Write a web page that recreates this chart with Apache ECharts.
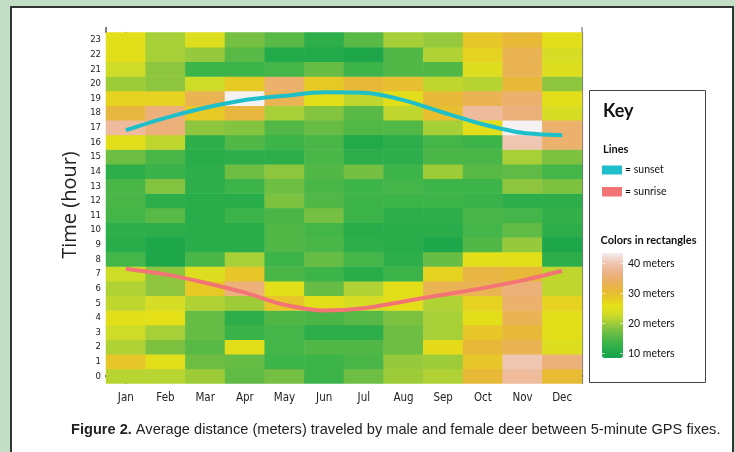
<!DOCTYPE html>
<html><head><meta charset="utf-8">
<script src="https://cdn.jsdelivr.net/npm/echarts@6/dist/echarts.min.js"></script>
<style>html,body{margin:0;padding:0;background:#c2dfc5}#c{width:735px;height:452px}</style>
</head><body><div id="c"></div>
<script>
const months = ['Jan','Feb','Mar','Apr','May','Jun','Jul','Aug','Sep','Oct','Nov','Dec'];
const hours = ['0','1','2','3','4','5','6','7','8','9','10','11','12','13','14','15','16','17','18','19','20','21','22','23'];
// average distance (m) per hour 0..23 for each month
const jan = [21.5,29,21,23,25.5,22,21,23,14,11.5,12,14,14.5,14.5,12,17,25.5,38.5,31.5,27.5,20,23,25.5,25.5];
const feb = [21.5,25.5,18,20.5,26,23.5,19,19,10,10,12,15.5,12,18.5,13,14.5,22,36,36,27.5,19,19,20.5,20.5];
const mar = [20,17,15.5,16.5,16.5,21,28.5,24.5,14.5,11.5,11.5,11.5,11.5,12,12,11.5,12,19,28.5,33,23,13.5,19.5,24.5];
const apr = [16,16.5,25.5,13,12,20,36,29,20.5,11.5,11.5,13.5,11.5,13.5,17,12,15,18.5,31.5,43.5,28.5,13.5,15.5,17.5];
const may = [17.5,13.5,14,14,15,29,25.5,14.5,13.5,15,15,14.5,18,17,19,12,13.5,15,20.5,33,35,14,10.5,15.5];
const jun = [13.5,13.5,15,12,14.5,25.5,16.5,13.5,16.5,14.5,14,17.5,15,14.5,15,14.5,14.5,16.5,18.5,25.5,28.5,16.5,10.5,12];
const jul = [17,14.5,15,12,15.5,23.5,21,11.5,14,12,11.5,13.5,13.5,13.5,17.5,12,10.5,15,15.5,22,31,13.5,10,15.5];
const aug = [20,19.5,17,17,18,25.5,25.5,13.5,12,11.5,11.5,12,13.5,14,13.5,12,12,15,22,25.5,30,15,15,20.5];
const sep = [21,20,26.5,20.5,20.5,21,33,27.5,16.5,10,11.5,12,13.5,13.5,20,14.5,14,20.5,30,31,22,15,21,19.5];
const oct = [31,29,31,29,25.5,27.5,33,32,25.5,15,14,14.5,13,13.5,15.5,14.5,13.5,25.5,38.5,33,21.5,24.5,27.5,29];
const nov = [38.5,40,33,31,33,35,36,31,25.5,19.5,16,14,12,19,16,20.5,40,43.5,36,35,31,33,33,31];
const dec = [30.5,36,24.5,25.5,25.5,27.5,22,22,12,10,12,12.5,12,18,14,18,35,35,23.5,25.5,19,24.5,23.5,25.5];
// sunset / sunrise time (hour) at mid-month
const sunset  = [16.82,17.66,18.35,18.88,19.17,19.41,19.38,18.88,18.03,17.23,16.64,16.48];
const sunrise = [7.35,6.96,6.39,5.71,4.88,4.49,4.65,5.11,5.57,6.02,6.55,7.21];
const legendTicks = [40,30,20,10];

const monthly = [jan,feb,mar,apr,may,jun,jul,aug,sep,oct,nov,dec];
const heat = [];
monthly.forEach((arr,m)=>arr.forEach((v,h)=>heat.push([m,h,v])));

const chart = echarts.init(document.getElementById('c'), null, {renderer:'canvas'});
const narrow = "'Liberation Sans Narrow','DejaVu Sans Condensed',sans-serif";
const keyFont = "Lato,'Liberation Sans',sans-serif";
const vmMin = 8.5, vmMax = 43.5, vmTop = 253, vmH = 105;
const valY = v => vmTop + vmH * (vmMax - v) / (vmMax - vmMin);

const graphics = [
  {type:'rect', z:-100, shape:{x:11,y:7,width:722,height:470}, style:{fill:'#fff', stroke:'#333', lineWidth:2}},
  {type:'line', shape:{x1:106,y1:27,x2:106,y2:33}, style:{stroke:'#555',lineWidth:1.5}},
  {type:'line', shape:{x1:582,y1:27,x2:582,y2:33}, style:{stroke:'#777',lineWidth:1.2}},
  {type:'rect', shape:{x:589.5,y:90.5,width:116,height:292}, style:{fill:'#fff', stroke:'#444', lineWidth:1}, z:-1},
  {type:'text', x:603, y:111, style:{text:'Key', font:"bold 18px "+keyFont, fill:'#111', textVerticalAlign:'middle'}},
  {type:'text', x:603, y:149.5, style:{text:'Lines', font:"bold 11px "+keyFont, fill:'#111', textVerticalAlign:'middle'}},
  {type:'rect', shape:{x:602,y:165.5,width:20,height:9}, style:{fill:'#1ebfc8'}},
  {type:'text', x:625, y:170, style:{text:'= sunset', font:"10.5px "+keyFont, fill:'#111', textVerticalAlign:'middle'}},
  {type:'rect', shape:{x:602,y:187,width:20,height:9.5}, style:{fill:'#f27474'}},
  {type:'text', x:625, y:191.5, style:{text:'= sunrise', font:"10.5px "+keyFont, fill:'#111', textVerticalAlign:'middle'}},
  {type:'text', x:600.5, y:240.5, style:{text:'Colors in rectangles', font:"bold 11px "+keyFont, fill:'#111', textVerticalAlign:'middle'}},
  {type:'text', x:71, y:430, style:{rich:{b:{font:"bold 14.6px 'Liberation Sans',Arial,sans-serif", fill:'#222'}, n:{font:"14.6px 'Liberation Sans',Arial,sans-serif", fill:'#222'}}, text:'{b|Figure 2.}{n| Average distance (meters) traveled by male and female deer between 5-minute GPS fixes.}', textVerticalAlign:'middle'}},
  {type:'text', x:70, y:205, rotation:Math.PI/2, style:{text:'Time (hour)', font:"20px 'Open Sans','Liberation Sans',sans-serif", fill:'#222', textAlign:'center', textVerticalAlign:'middle'}}
];
legendTicks.forEach(t=>{
  graphics.push({type:'text', x:628, y:valY(t), style:{text:t+' meters', font:"10.5px "+keyFont, fill:'#111', textVerticalAlign:'middle'}});
  graphics.push({type:'line', z:10, shape:{x1:602,y1:valY(t),x2:605,y2:valY(t)}, style:{stroke:'rgba(255,255,255,0.6)',lineWidth:1}});
  graphics.push({type:'line', z:10, shape:{x1:620,y1:valY(t),x2:623,y2:valY(t)}, style:{stroke:'rgba(255,255,255,0.6)',lineWidth:1}});
});

chart.setOption({
  animation:false,
  backgroundColor:'#c2dfc5',
  grid:{left:106, top:32.5, width:476, height:351},
  xAxis:[
    {type:'category', data:months, position:'bottom', axisTick:{show:false},
     axisLine:{show:true, lineStyle:{color:'#222', width:2}},
     axisLabel:{color:'#222', fontSize:11.5, fontFamily:narrow, margin:9}, splitLine:{show:false}},
    {type:'value', min:-0.5, max:11.5, show:false}
  ],
  yAxis:[
    {type:'category', data:hours, axisTick:{show:false},
     axisLine:{show:true, lineStyle:{color:'#555', width:1.5}},
     axisLabel:{color:'#222', fontSize:9.5, fontFamily:narrow, margin:5}, splitLine:{show:false}},
    {type:'value', min:-0.5, max:23.5, position:'right', axisLine:{show:true, lineStyle:{color:'#777', width:1.2}},
     axisLabel:{show:false}, axisTick:{show:false}, splitLine:{show:false}}
  ],
  visualMap:{
    type:'continuous', min:vmMin, max:vmMax, calculable:false, seriesIndex:0, padding:0,
    orient:'vertical', left:602, top:vmTop, itemWidth:21, itemHeight:vmH, text:null, showLabel:false,
    inRange:{color:['#14a34b','#24aa4a','#3db449','#5fba46','#84c340','#b0d235','#d6dd24','#e5e018','#e6c925','#e8b838','#eab25a','#ecb07a','#eebb9c','#f0cdbf','#f3f1f1']}
  },
  graphic:graphics,
  series:[
    {type:'heatmap', data:heat, xAxisIndex:0, yAxisIndex:0, itemStyle:{borderWidth:0}, emphasis:{disabled:true}},
    {type:'line', xAxisIndex:1, yAxisIndex:1, data:sunset.map((v,i)=>[i,v]), smooth:0.3, showSymbol:false,
     lineStyle:{color:'#1ebfc8', width:4}, z:5},
    {type:'line', xAxisIndex:1, yAxisIndex:1, data:sunrise.map((v,i)=>[i,v]), smooth:0.3, showSymbol:false,
     lineStyle:{color:'#f27474', width:4}, z:5}
  ]
});
</script></body></html>
